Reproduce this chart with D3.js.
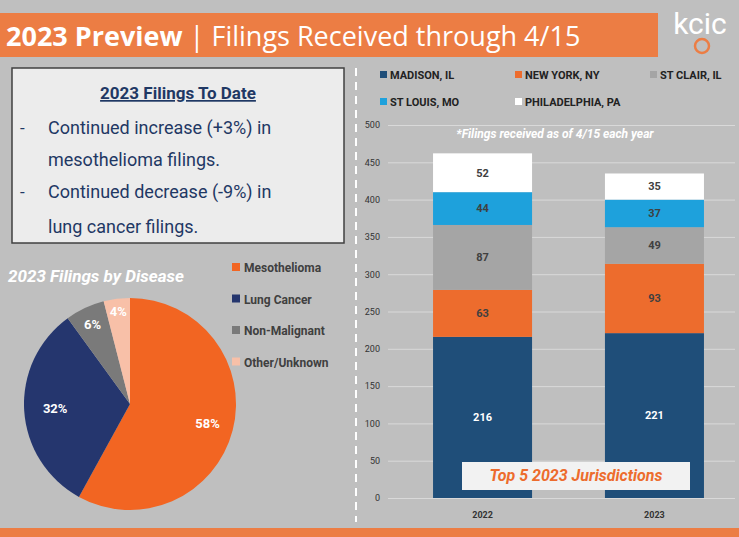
<!DOCTYPE html>
<html><head><meta charset="utf-8">
<script src="https://cdn.jsdelivr.net/npm/d3@7"></script>
<style>body{margin:0;background:#bfbfbf}</style></head>
<body><svg id="c" width="739" height="537"></svg>
<script>
const years = ["2022", "2023"];
const jurisdictions = ["MADISON, IL", "NEW YORK, NY", "ST CLAIR, IL", "ST LOUIS, MO", "PHILADELPHIA, PA"];
const madison = [216, 221];
const newYork = [63, 93];
const stClair = [87, 49];
const stLouis = [44, 37];
const philadelphia = [52, 35];
const yTicks = [0, 50, 100, 150, 200, 250, 300, 350, 400, 450, 500];
const diseases = ["Mesothelioma", "Lung Cancer", "Non-Malignant", "Other/Unknown"];
const diseaseShare = [58, 32, 6, 4];

const barColors = ["#1f4e79", "#ed6c2d", "#a5a5a5", "#1ea1dc", "#ffffff"];
const pieColors = ["#f26522", "#25366e", "#7a7a7a", "#f8c0a8"];
const svg = d3.select("#c");
const F = "Roboto, 'Open Sans', sans-serif";

svg.append("rect").attr("width", 739).attr("height", 537).attr("fill", "#bfbfbf");
// header
svg.append("rect").attr("x", 0).attr("y", 13).attr("width", 658).attr("height", 44).attr("fill", "#ec7d44");
const ht = svg.append("text").attr("x", 6).attr("y", 46).attr("fill", "#fff").attr("font-family", "'Open Sans', sans-serif").attr("font-size", 27);
ht.append("tspan").attr("font-weight", "bold").text("2023 Preview");
ht.append("tspan").text(" | Filings Received through 4/15");
svg.append("text").attr("x", 700).attr("y", 34).attr("text-anchor", "middle").attr("fill", "#fff").attr("font-family", F).attr("font-size", 30).text("kcic");
svg.append("circle").attr("cx", 702).attr("cy", 46).attr("r", 7).attr("fill", "none").attr("stroke", "#ec7d44").attr("stroke-width", 2.5);
// bottom strip
svg.append("rect").attr("x", 0).attr("y", 528).attr("width", 739).attr("height", 9).attr("fill", "#ec7d44");
// divider
svg.append("line").attr("x1", 356).attr("x2", 356).attr("y1", 68).attr("y2", 522).attr("stroke", "#fff").attr("stroke-width", 2).attr("stroke-dasharray", "8,6");

// text box
svg.append("rect").attr("x", 12).attr("y", 68).attr("width", 332).attr("height", 175).attr("fill", "#ececec").attr("stroke", "#404040").attr("stroke-width", 1.5);
svg.append("text").attr("x", 178).attr("y", 99).attr("text-anchor", "middle").attr("fill", "#1f3864").attr("font-weight", "bold").attr("font-family", F).attr("font-size", 17).attr("text-decoration", "underline").text("2023 Filings To Date");
const lines = [["-", "Continued increase (+3%) in", 134], ["", "mesothelioma filings.", 166], ["-", "Continued decrease (-9%) in", 198], ["", "lung cancer filings.", 233]];
lines.forEach(([b, t, y]) => {
  svg.append("text").attr("x", 20).attr("y", y).attr("fill", "#1f3864").attr("font-family", F).attr("font-size", 17).text(b);
  svg.append("text").attr("x", 48).attr("y", y).attr("fill", "#1f3864").attr("font-family", F).attr("font-size", 18).text(t);
});

// pie
svg.append("text").attr("x", 8).attr("y", 282).attr("fill", "#fff").attr("font-family", F).attr("font-weight", "bold").attr("font-style", "italic").attr("font-size", 17).text("2023 Filings by Disease");
const pie = d3.pie().sort(null)(diseaseShare);
const arc = d3.arc().innerRadius(0).outerRadius(106);
const pg = svg.append("g").attr("transform", "translate(130,404)");
pg.selectAll("path").data(pie).join("path").attr("d", arc).attr("fill", (d, i) => pieColors[i]);
const labelR = [80, 75, 88, 93];
pg.selectAll("text").data(pie).join("text")
  .attr("transform", (d, i) => `translate(${d3.arc().innerRadius(labelR[i]).outerRadius(labelR[i]).centroid(d)})`)
  .attr("text-anchor", "middle").attr("dy", "0.35em").attr("fill", "#fff").attr("font-family", F).attr("font-weight", "bold").attr("font-size", 13)
  .text(d => d.data + "%");
diseases.forEach((d, i) => {
  const y = 272 + i * 31.5;
  svg.append("rect").attr("x", 232).attr("y", y - 9).attr("width", 8).attr("height", 8).attr("fill", pieColors[i]);
  svg.append("text").attr("x", 244).attr("y", y).attr("fill", "#404040").attr("font-family", F).attr("font-weight", "bold").attr("font-size", 12).text(d);
});

// bar chart
const y = d3.scaleLinear().domain([0, 500]).range([498, 125]);
const x = d3.scaleBand().domain(years).range([388, 749]).paddingInner(0.424).paddingOuter(0.262);
const gy = svg.append("g").attr("transform", "translate(388,0)")
  .call(d3.axisLeft(y).tickValues(yTicks).tickSize(-347).tickPadding(8));
gy.select(".domain").remove();
gy.selectAll(".tick line").attr("stroke", "#d9d9d9").attr("stroke-width", 1);
gy.selectAll("text").attr("fill", "#333").attr("font-family", F).attr("font-size", 9);
const gx = svg.append("g").attr("transform", "translate(0,498)").call(d3.axisBottom(x).tickSize(0).tickPadding(14));
gx.select(".domain").remove();
svg.append("line").attr("x1", 388).attr("x2", 735).attr("y1", 498.5).attr("y2", 498.5).attr("stroke", "#d9d9d9");
gx.selectAll("text").attr("fill", "#333").attr("font-family", F).attr("font-weight", "bold").attr("font-size", 9);

const series = [madison, newYork, stClair, stLouis, philadelphia];
const rows = years.map((yr, i) => { const r = { year: yr }; jurisdictions.forEach((j, k) => r[j] = series[k][i]); return r; });
const stacked = d3.stack().keys(jurisdictions)(rows);
stacked.forEach((s, k) => {
  const g = svg.append("g");
  g.selectAll("rect").data(s).join("rect")
    .attr("x", d => x(d.data.year)).attr("width", x.bandwidth())
    .attr("y", d => y(d[1])).attr("height", d => y(d[0]) - y(d[1])).attr("fill", barColors[k]);
  g.selectAll("text").data(s).join("text")
    .attr("x", d => x(d.data.year) + x.bandwidth() / 2).attr("y", d => (y(d[0]) + y(d[1])) / 2).attr("dy", "0.35em")
    .attr("text-anchor", "middle").attr("font-family", F).attr("font-weight", "bold").attr("font-size", 11)
    .attr("fill", k === 0 ? "#fff" : "#404040").text(d => d[1] - d[0]);
});
svg.append("text").attr("x", 555).attr("y", 138).attr("text-anchor", "middle").attr("fill", "#fff").attr("font-family", F).attr("font-weight", "bold").attr("font-style", "italic").attr("font-size", 12).text("*Filings received as of 4/15 each year");
// legend
jurisdictions.forEach((j, i) => {
  const lx = [380, 515, 650, 380, 515][i], ly = i < 3 ? 79 : 106;
  svg.append("rect").attr("x", lx).attr("y", ly - 8).attr("width", 7).attr("height", 7).attr("fill", barColors[i]);
  svg.append("text").attr("x", lx + 10).attr("y", ly).attr("fill", "#222").attr("font-family", F).attr("font-weight", "bold").attr("font-size", 11).text(j);
});
// callout
svg.append("rect").attr("x", 462).attr("y", 462).attr("width", 228).attr("height", 28).attr("fill", "#f2f2f2");
svg.append("text").attr("x", 576).attr("y", 481).attr("text-anchor", "middle").attr("fill", "#ed6c2d").attr("font-family", F).attr("font-weight", "bold").attr("font-style", "italic").attr("font-size", 16).text("Top 5 2023 Jurisdictions");
</script></body></html>
